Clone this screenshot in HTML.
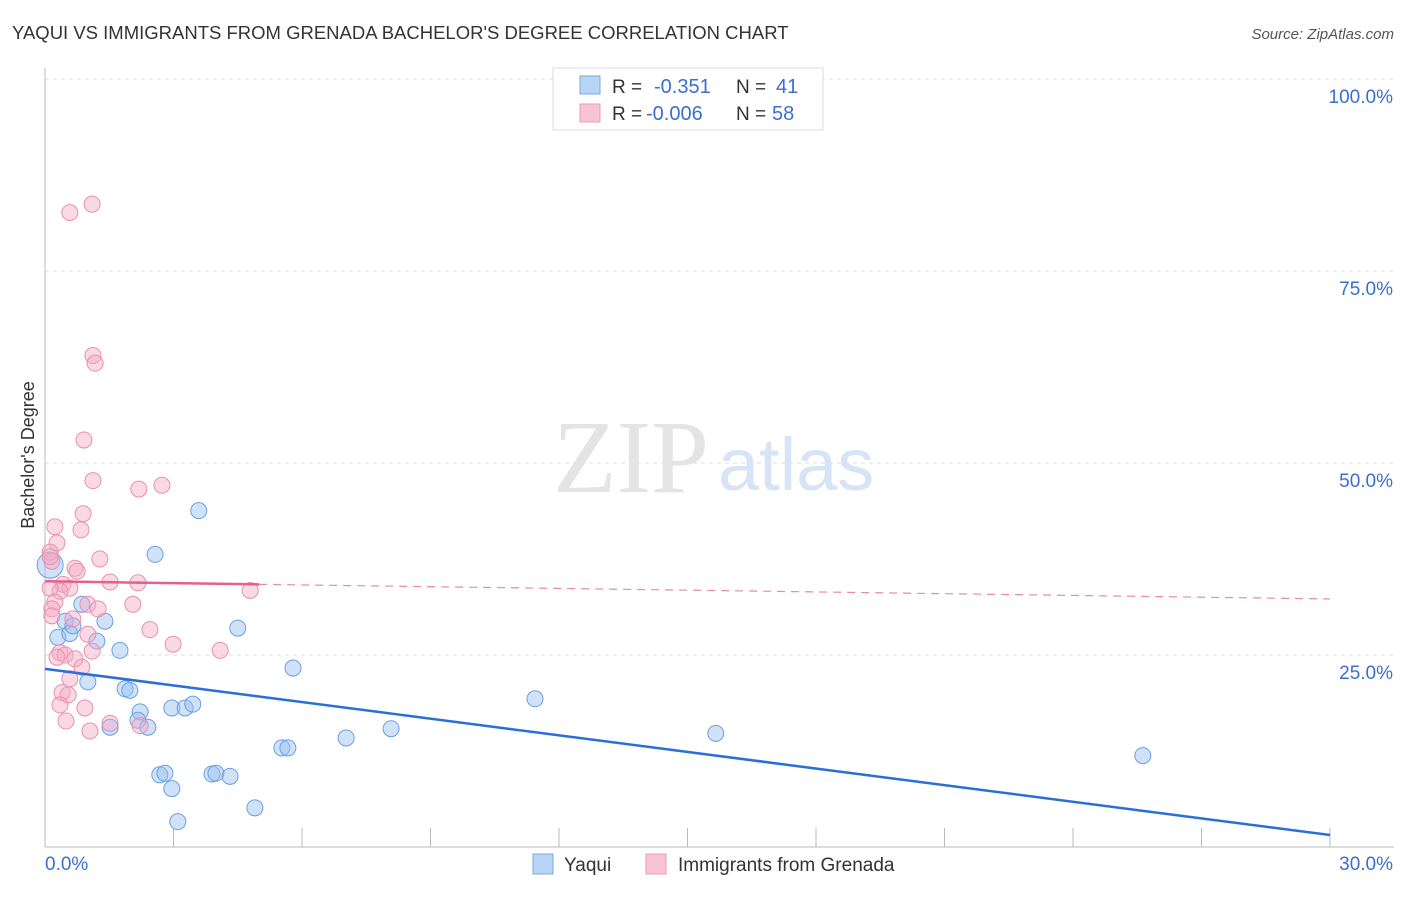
<!DOCTYPE html>
<html><head><meta charset="utf-8"><style>
body{margin:0;background:#fff;font-family:"Liberation Sans",sans-serif;}
</style></head><body>
<svg width="1406" height="892" viewBox="0 0 1406 892" xmlns="http://www.w3.org/2000/svg">
<text x="12" y="39" font-size="18.5" fill="#333">YAQUI VS IMMIGRANTS FROM GRENADA BACHELOR'S DEGREE CORRELATION CHART</text>
<text x="1394" y="39" font-size="15" fill="#555" font-style="italic" text-anchor="end">Source: ZipAtlas.com</text>
<g id="grid"></g>
<g id="axes"></g>
<text x="553" y="492" font-size="104" fill="#e4e4e4" font-family="Liberation Serif">ZIP</text>
<text x="718" y="490" font-size="74" fill="#d6e4f6">atlas</text>
<g id="marks"></g>
<text transform="translate(34,455) rotate(-90)" font-size="18" fill="#333" text-anchor="middle">Bachelor's Degree</text>
<g>
<rect x="553" y="68" width="270" height="62" fill="#fff" stroke="#ddd"/>
<rect x="580" y="76" width="20" height="18" fill="#b8d4f4" stroke="#7aa8e0"/>
<rect x="580" y="104" width="20" height="18" fill="#f8c4d4" stroke="#ec9ab6"/>
<text x="612" y="93" font-size="19" fill="#333">R = </text><text x="654" y="93" font-size="20" fill="#3a6fd0">-0.351</text>
<text x="736" y="93" font-size="19" fill="#333">N = </text><text x="776" y="93" font-size="20" fill="#3a6fd0">41</text>
<text x="612" y="120" font-size="19" fill="#333">R = </text><text x="646" y="120" font-size="20" fill="#3a6fd0">-0.006</text>
<text x="736" y="120" font-size="19" fill="#333">N = </text><text x="772" y="120" font-size="20" fill="#3a6fd0">58</text>
</g>
<g>
<rect x="533" y="854" width="20" height="20" fill="#b8d4f4" stroke="#7aa8e0"/>
<text x="564" y="871" font-size="19" fill="#333">Yaqui</text>
<rect x="646" y="854" width="20" height="20" fill="#f8c4d4" stroke="#ec9ab6"/>
<text x="678" y="871" font-size="19" fill="#333">Immigrants from Grenada</text>
</g>
</svg>
<script>
const xTicks=[0,3,6,9,12,15,18,21,24,27,30];
const yTicks=[25,50,75,100];
const yTickLabels=["25.0%","50.0%","75.0%","100.0%"];
const blueX=[0.12,0.3,0.47,0.58,0.65,0.86,1.0,1.21,1.4,1.52,1.75,1.87,1.98,2.22,2.17,2.4,2.57,2.68,2.8,2.96,3.1,2.96,3.27,3.45,3.59,3.9,3.99,4.32,4.5,4.9,5.53,5.67,5.79,7.03,8.08,11.44,15.66,25.63];
const blueY=[36.7,27.3,29.4,27.8,28.8,31.6,21.5,26.8,29.4,15.6,25.6,20.6,20.4,17.6,16.5,15.6,38.1,9.4,9.6,7.6,3.3,18.1,18.1,18.6,43.8,9.5,9.6,9.2,28.5,5.1,12.9,12.9,23.3,14.2,15.4,19.3,14.8,11.9];
const pinkX=[0.58,1.1,1.12,1.17,0.91,1.12,2.19,2.73,0.89,0.23,0.84,0.28,0.12,0.16,1.28,0.7,0.75,1.52,2.17,0.42,0.58,0.35,0.12,4.79,1.0,1.24,2.05,0.23,0.16,0.16,0.65,1.0,2.45,2.99,4.09,1.1,0.35,0.47,0.28,0.7,0.86,0.58,0.4,0.54,0.35,0.93,1.52,2.22,0.49,1.05,0.12];
const pinkY=[82.6,83.7,64.0,63.0,53.0,47.7,46.6,47.1,43.4,41.7,41.3,39.6,38.4,37.2,37.5,36.3,35.9,34.5,34.4,34.2,33.7,33.3,33.7,33.4,31.6,31.0,31.6,31.9,31.0,30.1,29.7,27.7,28.3,26.4,25.6,25.5,25.3,25.0,24.7,24.5,23.4,21.9,20.1,19.8,18.5,18.1,16.1,15.8,16.4,15.1,37.8];
const blueTrend=[[0,23.2],[30,1.56]];
const pinkTrend=[[0,34.6],[5,34.2],[30,32.3]];
const X=v=>45+v/30*1285, Y=v=>847-v*7.68;
const NS="http://www.w3.org/2000/svg";
function mk(p,t,a){const e=document.createElementNS(NS,t);for(const k in a)e.setAttribute(k,a[k]);p.appendChild(e);return e;}
const grid=document.getElementById('grid'),axes=document.getElementById('axes'),marks=document.getElementById('marks');
yTicks.forEach((v,i)=>{const l=mk(grid,'line',{x1:45,x2:1394,y1:Y(v),y2:Y(v),stroke:'#ddd','stroke-dasharray':'4,4'});


const t=mk(axes,'text',{x:1393,y:Y(v)+24,'font-size':19,fill:'#3a6fd0','text-anchor':'end'});t.textContent=yTickLabels[i];

});
mk(axes,'line',{x1:45,x2:45,y1:68,y2:847,stroke:'#bbb'});
mk(axes,'line',{x1:45,x2:1394,y1:847,y2:847,stroke:'#bbb'});
xTicks.forEach(v=>{const l=mk(axes,'line',{x1:X(v),x2:X(v),y1:828,y2:847,stroke:'#bbb'});

});
const t0=mk(axes,'text',{x:45,y:870,'font-size':19,fill:'#3a6fd0'});t0.textContent='0.0%';


const t1=mk(axes,'text',{x:1393,y:870,'font-size':19,fill:'#3a6fd0','text-anchor':'end'});t1.textContent='30.0%';


blueX.forEach((v,i)=>{const c=mk(marks,'circle',{cx:X(v),cy:Y(blueY[i]),r:i==0?13:8,fill:'rgba(150,190,240,0.45)',stroke:'#6a9fe0','stroke-width':1});

});
pinkX.forEach((v,i)=>{const c=mk(marks,'circle',{cx:X(v),cy:Y(pinkY[i]),r:8,fill:'rgba(244,170,196,0.45)',stroke:'#e890b0','stroke-width':1});

});
const bl=mk(marks,'line',{x1:X(blueTrend[0][0]),y1:Y(blueTrend[0][1]),x2:X(blueTrend[1][0]),y2:Y(blueTrend[1][1]),stroke:'#2a6fd8','stroke-width':2.5});


const pl=mk(marks,'line',{x1:X(pinkTrend[0][0]),y1:Y(pinkTrend[0][1]),x2:X(pinkTrend[1][0]),y2:Y(pinkTrend[1][1]),stroke:'#e8608a','stroke-width':2.5});


const pd=mk(marks,'line',{x1:X(pinkTrend[1][0]),y1:Y(pinkTrend[1][1]),x2:X(pinkTrend[2][0]),y2:Y(pinkTrend[2][1]),stroke:'#e88aa8','stroke-width':1.2,'stroke-dasharray':'8,6'});


</script>
</body></html>
